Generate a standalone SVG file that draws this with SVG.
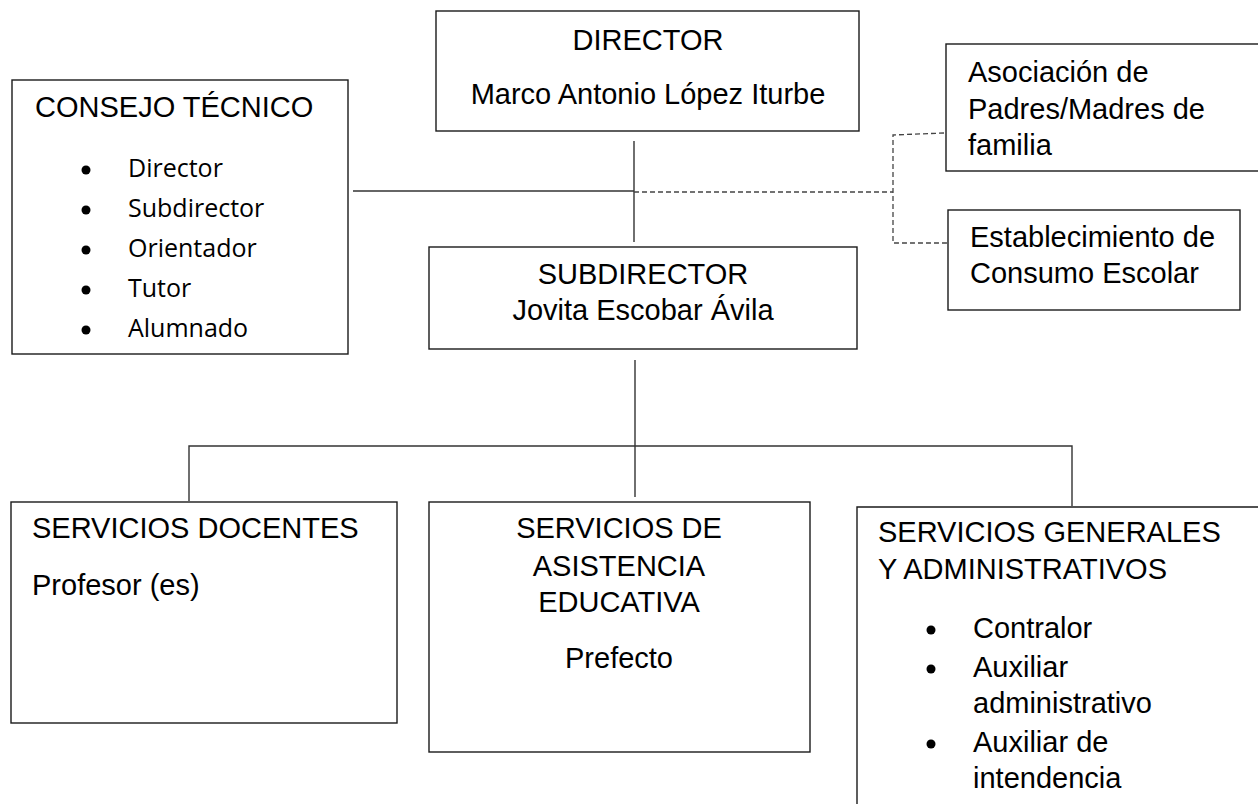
<svg xmlns="http://www.w3.org/2000/svg" width="1258" height="804" viewBox="0 0 1258 804">
<style>
.box{fill:#fff;stroke:#1a1a1a;stroke-width:1.4}
.t{font-family:"Liberation Sans",Arial,sans-serif;font-size:29px;fill:#000}
.c{text-anchor:middle}
.b{font-family:"Open Sans","Noto Sans",sans-serif;font-size:25px;fill:#000}
.ln{stroke:#333;stroke-width:1.4;fill:none}
.dash{stroke:#444;stroke-width:1.3;fill:none;stroke-dasharray:5 3}
</style>
<rect width="1258" height="804" fill="#fff"/>
<g id="connectors">
<line class="ln" x1="634" y1="141" x2="634" y2="242"/>
<line class="ln" x1="353" y1="191" x2="634" y2="191"/>
<polyline class="dash" points="634,192 893,192"/>
<polyline class="dash" points="944,133 893,135 893,243 948,243"/>
<line class="ln" x1="635" y1="360" x2="635" y2="497"/>
<polyline class="ln" points="189,501 189,446 1072,446 1072,506"/>
</g>
<g id="director">
<rect class="box" x="436" y="11" width="423" height="120"/>
<text class="t c" x="648" y="50">DIRECTOR</text>
<text class="t c" x="648" y="104">Marco Antonio López Iturbe</text>
</g>
<g id="consejo">
<rect class="box" x="12" y="80" width="336" height="274"/>
<text class="t" x="35" y="117">CONSEJO TÉCNICO</text>
<g fill="#000">
<circle cx="86" cy="170" r="4.5"/><circle cx="86" cy="210" r="4.5"/><circle cx="86" cy="250" r="4.5"/><circle cx="86" cy="290" r="4.5"/><circle cx="86" cy="330" r="4.5"/>
</g>
<text class="b" x="128" y="177">Director</text>
<text class="b" x="128" y="217">Subdirector</text>
<text class="b" x="128" y="257">Orientador</text>
<text class="b" x="128" y="297">Tutor</text>
<text class="b" x="128" y="337">Alumnado</text>
</g>
<g id="asociacion">
<rect class="box" x="946" y="44" width="320" height="127"/>
<text class="t" x="968" y="82">Asociación de</text>
<text class="t" x="968" y="119">Padres/Madres de</text>
<text class="t" x="968" y="155">familia</text>
</g>
<g id="establecimiento">
<rect class="box" x="948" y="210" width="292" height="100"/>
<text class="t" x="970" y="247">Establecimiento de</text>
<text class="t" x="970" y="283">Consumo Escolar</text>
</g>
<g id="subdirector">
<rect class="box" x="429" y="247" width="428" height="102"/>
<text class="t c" x="643" y="284">SUBDIRECTOR</text>
<text class="t c" x="643" y="320">Jovita Escobar Ávila</text>
</g>
<g id="docentes">
<rect class="box" x="11" y="502" width="386" height="221"/>
<text class="t" x="32" y="538">SERVICIOS DOCENTES</text>
<text class="t" x="32" y="595">Profesor (es)</text>
</g>
<g id="asistencia">
<rect class="box" x="429" y="502" width="381" height="250"/>
<text class="t c" x="619" y="538">SERVICIOS DE</text>
<text class="t c" x="619" y="576">ASISTENCIA</text>
<text class="t c" x="619" y="612">EDUCATIVA</text>
<text class="t c" x="619" y="668">Prefecto</text>
</g>
<g id="generales">
<path class="box" d="M857,820 V507 H1270"/>
<text class="t" x="878" y="542">SERVICIOS GENERALES</text>
<text class="t" x="878" y="579">Y ADMINISTRATIVOS</text>
<g fill="#000">
<circle cx="931" cy="630" r="4.5"/><circle cx="931" cy="669" r="4.5"/><circle cx="931" cy="744" r="4.5"/>
</g>
<text class="t" x="973" y="638">Contralor</text>
<text class="t" x="973" y="677">Auxiliar</text>
<text class="t" x="973" y="713">administrativo</text>
<text class="t" x="973" y="752">Auxiliar de</text>
<text class="t" x="973" y="788">intendencia</text>
</g>
</svg>
